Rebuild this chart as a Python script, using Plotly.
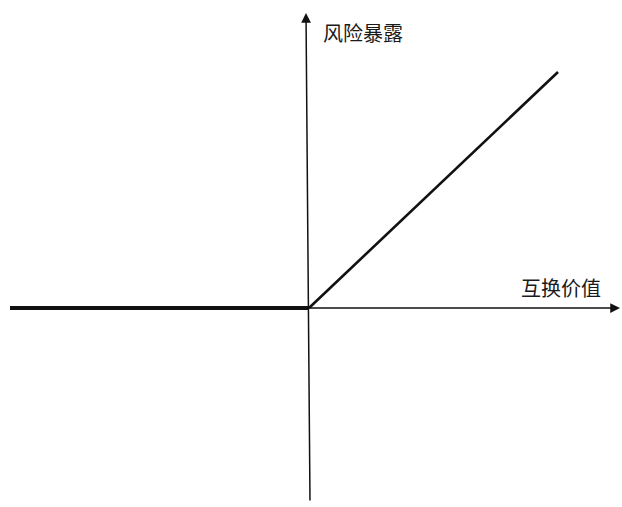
import plotly.graph_objects as go

# Swap value (x) vs. risk exposure (y): exposure = max(0, value)
left_values = [-299, 0]
left_exposure = [0, 0]
right_values = [0, 249]
right_exposure = [0, 236]

x_label = "互换价值"
y_label = "风险暴露"

fig = go.Figure()
fig.add_trace(go.Scatter(x=left_values, y=left_exposure, mode="lines",
                         line=dict(color="#111111", width=4), hoverinfo="skip"))
fig.add_trace(go.Scatter(x=right_values, y=right_exposure, mode="lines",
                         line=dict(color="#111111", width=2.6), hoverinfo="skip"))

# axes with arrows
fig.add_annotation(x=311, y=0, ax=-299, ay=0, xref="x", yref="y", axref="x", ayref="y",
                   showarrow=True, arrowhead=2, arrowsize=1.3, arrowwidth=1.5,
                   arrowcolor="#111111", text="")
fig.add_annotation(x=-3, y=295, ax=1, ay=-194, xref="x", yref="y", axref="x", ayref="y",
                   showarrow=True, arrowhead=2, arrowsize=1.3, arrowwidth=1.5,
                   arrowcolor="#111111", text="")

fig.add_annotation(x=12, y=276, xref="x", yref="y", text=y_label, showarrow=False,
                   xanchor="left", yanchor="middle",
                   font=dict(family="Noto Sans CJK SC", size=20, color="#1a1a1a"))
fig.add_annotation(x=294, y=21, xref="x", yref="y", text=x_label, showarrow=False,
                   xanchor="right", yanchor="middle",
                   font=dict(family="Noto Sans CJK SC", size=20, color="#1a1a1a"))

fig.update_layout(
    width=622, height=507,
    margin=dict(l=0, r=0, t=0, b=0),
    paper_bgcolor="white", plot_bgcolor="white",
    showlegend=False,
    xaxis=dict(range=[-309, 313], visible=False, fixedrange=True),
    yaxis=dict(range=[-199, 308], visible=False, fixedrange=True),
)

fig.write_html("out.html", config={"displayModeBar": False},
               post_script="document.body.style.margin='0';document.body.style.overflow='hidden';")
